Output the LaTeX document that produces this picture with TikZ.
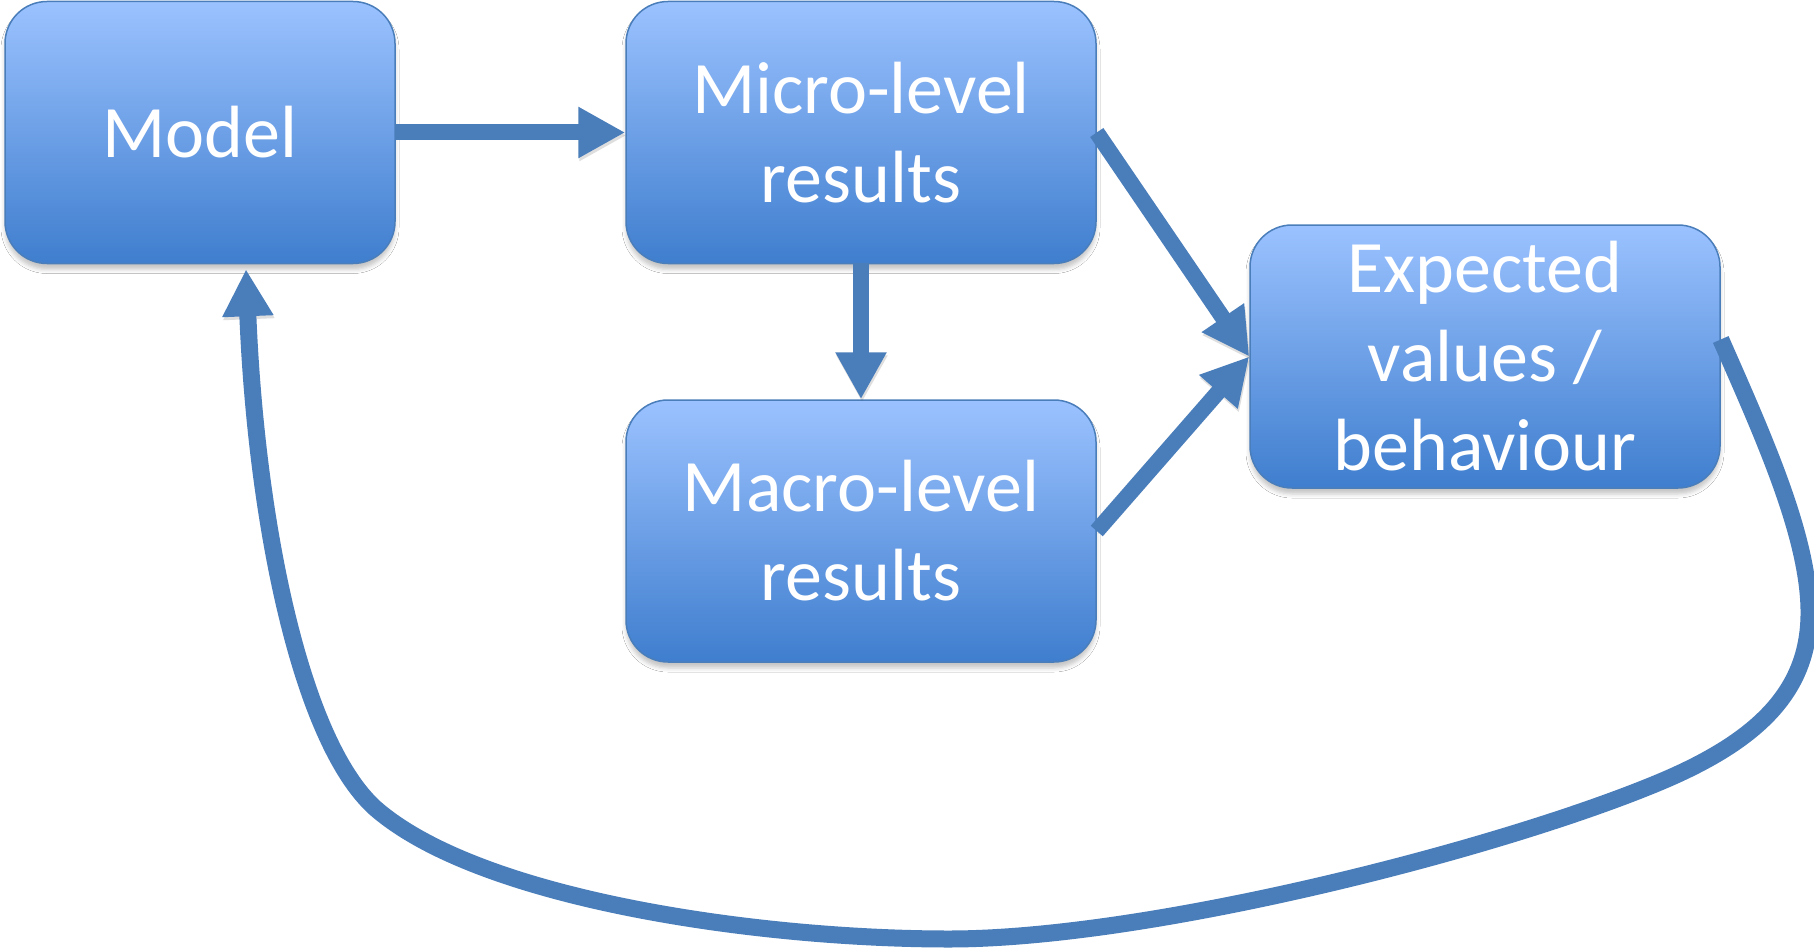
\documentclass[tikz,border=0pt]{standalone}
\usepackage{fontspec}
\setmainfont{Carlito}
\usetikzlibrary{arrows.meta,shadows.blur}

\definecolor{boxtop}{RGB}{155,194,255}
\definecolor{boxbot}{RGB}{63,126,206}
\definecolor{boxline}{RGB}{74,126,187}
\definecolor{arrowblue}{RGB}{74,126,187}

\begin{document}
\begin{tikzpicture}[x=1pt,y=-1pt,
  box/.style={rectangle, rounded corners=42pt, draw=boxline, line width=1.5pt,
    top color=boxtop, bottom color=boxbot, text=white,
    font=\fontsize{74}{89}\selectfont, align=center, inner sep=0pt,
    minimum height=262pt,
    blur shadow={shadow xshift=0pt, shadow yshift=-6pt, shadow blur radius=4pt, shadow opacity=22}},
  conn/.style={line width=16pt, draw=arrowblue, -{Triangle[length=47pt,width=48pt]},
    preaction={draw=black!70, opacity=0.18, transform canvas={xshift=1pt,yshift=-3pt}}}
]
\fill[white] (0,0) rectangle (1814,952);
\useasboundingbox (0,0) rectangle (1814,952);

\node[box, minimum width=390pt] (model) at (200,132.5) {Model};
\node[box, minimum width=470pt] (micro) at (861,132.5) {Micro-level\\results};
\node[box, minimum width=470pt] (macro) at (861,531) {Macro-level\\results};
\node[box, minimum width=470pt, minimum height=263pt] (expected) at (1485,356.5) {Expected\\values /\\behaviour};

\draw[conn] (model.east) -- (micro.west);
\draw[conn] (micro.south) -- (macro.north);
\draw[conn] (micro.east) -- (expected.west);
\draw[conn] (macro.east) -- (expected.west);
\draw[conn, line width=17pt] ([yshift=17pt]expected.east) .. controls (1765,440) and (1810,540) .. (1809,615)
  .. controls (1808,690) and (1760,740) .. (1660,782)
  .. controls (1500,849) and (1150,939) .. (949,939)
  .. controls (760,939) and (480,900) .. (375,808)
  .. controls (300,740) and (256,520) .. ([xshift=46pt,yshift=-5pt]model.south);
\end{tikzpicture}
\end{document}
